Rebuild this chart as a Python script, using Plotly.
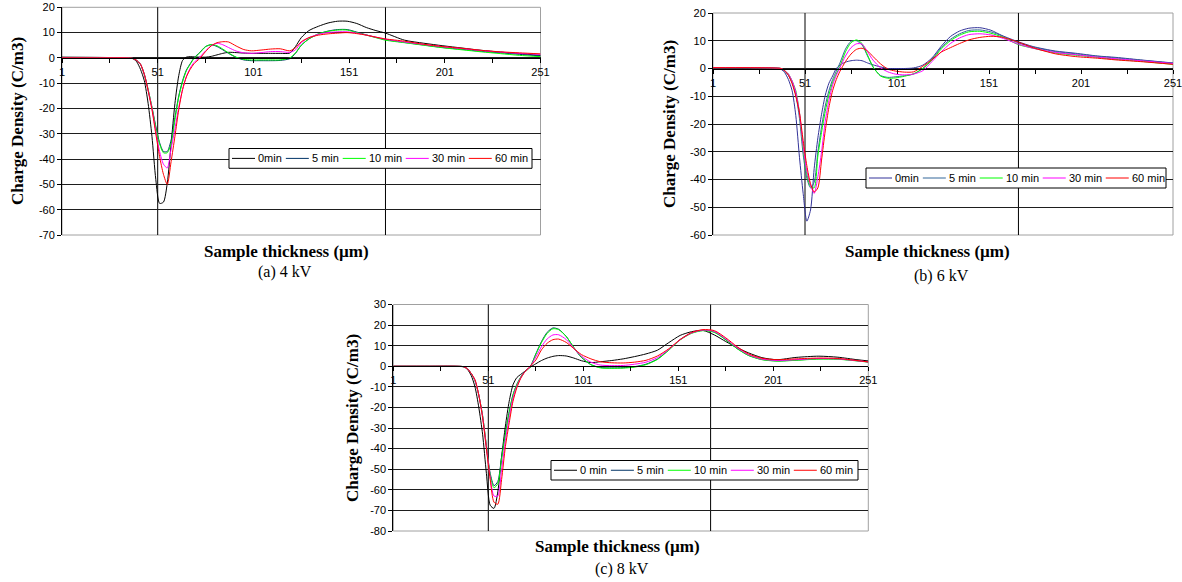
import plotly.graph_objects as go

W, H = 1182, 582

# ---------------- data ----------------
names_a = ["0min", "5 min", "10 min", "30 min", "60 min"]
names_b = ["0min", "5 min", "10 min", "30 min", "60 min"]
names_c = ["0 min", "5 min", "10 min", "30 min", "60 min"]

x_tick_vals = [1, 26, 51, 76, 101, 126, 151, 176, 201, 226, 251]
x_tick_text = ["1", "", "51", "", "101", "", "151", "", "201", "", "251"]

# (a) 4 kV
xa = [1, 20, 34, 38, 40, 42, 44, 46, 48, 50, 52, 54, 56, 58, 60, 62, 64, 66, 68, 70,
      73, 76, 79, 82, 85, 88, 92, 96, 100, 105, 110, 115, 120, 123, 126, 130,
      135, 140, 145, 150, 155, 160, 165, 170, 180, 190, 200, 210, 220, 230, 240, 251]
a_0min = [0.3, 0.2, 0, -0.3, -1.5, -4.5, -9, -18, -31, -48, -57.5, -57, -49.5, -34, -18, -7, -1, 0.3, 0.5, 0.4,
          0.3, 0.3, 0.6, 1.2, 1.8, 2.2, 2.1, 1.9, 1.8, 1.8, 1.8, 1.8, 1.9, 4.5, 8, 10.8,
          12.5, 13.8, 14.5, 14.5, 13.6, 12, 10.8, 9.8, 7, 5.8, 4.8, 3.9, 3, 2.3, 1.7, 1.0]
a_5min = [0, 0, 0, -0.2, -1, -2.5, -6.5, -12.5, -19.5, -27, -33.5, -37, -37, -32.5, -23.5, -15, -9, -4.8, -2.3, 0,
          2.2, 4.5, 5.2, 4.5, 3.2, 1.8, 0.2, -0.8, -1.1, -1.1, -1.1, -1, -0.3, 1.8, 5, 7.5,
          9.5, 10.6, 11.2, 11.2, 10.2, 9.1, 8.1, 7.2, 6.1, 5.1, 4.1, 3.4, 2.6, 2, 1.4, 0.8]
a_10min = [0, 0, 0, -0.2, -1, -2.5, -6.5, -12.5, -19.5, -27.5, -34, -37.5, -37.5, -34, -24.5, -15.5, -9.5, -5, -2.5, -0.2,
           2, 4.4, 5.3, 4.8, 3.5, 2, 0.3, -0.6, -0.8, -0.8, -0.8, -0.8, 0, 2, 5, 7.5,
           9.5, 10.5, 11, 11, 10, 9, 8, 7, 6, 5, 4, 3.2, 2.4, 1.7, 1.0, 0.5]
a_30min = [0, 0, 0, -0.2, -1, -2.5, -6.5, -12.8, -20, -29, -37, -42, -43.5, -36, -28, -19.5, -12.5, -7.3, -4, -1.8,
           0.3, 2.8, 4.8, 5.8, 5.2, 4.1, 2.7, 2, 1.8, 2.1, 2.5, 2.5, 2.2, 3.2, 6, 8,
           9.3, 10, 10.3, 10.3, 9.8, 9, 8.2, 7.4, 6.3, 5.3, 4.4, 3.7, 2.9, 2.3, 1.8, 1.4]
a_60min = [0, 0, 0, -0.2, -1, -2.5, -6.5, -13, -20.5, -30, -39, -46, -50, -41, -31, -20.5, -12.5, -7.5, -4.5, -2.3,
           -0.2, 2.5, 4.8, 6, 6.4, 6.3, 4.7, 3.3, 2.8, 3.1, 3.5, 3.6, 2.8, 4, 6.4, 8,
           9, 9.5, 9.8, 10, 9.6, 9, 8.2, 7.5, 6.6, 5.4, 4.5, 3.8, 3, 2.4, 2, 1.6]

# (b) 6 kV
xb = [1, 20, 34, 38, 40, 42, 44, 46, 48, 50, 52, 54, 56, 58, 60, 62, 64, 66, 68, 70,
      73, 76, 79, 82, 85, 88, 92, 96, 100, 105, 110, 115, 120, 125, 130, 135, 140,
      146, 152, 158, 167, 175, 187, 198, 210, 220, 235, 251]
b_0min = [0.3, 0.3, 0.2, -0.3, -1.5, -4, -8, -17, -32, -45, -55, -51, -36, -25, -16.5, -9.7, -5.3, -2.7, 0, 1.2,
          2.3, 2.8, 3, 2.8, 2, 1.3, 0.6, 0, 0, 0, 0.2, 1.2, 3.8, 8, 11.5, 13.5, 14.5,
          14.7, 13.8, 11.9, 9.6, 7.9, 6.3, 5.5, 4.5, 4, 3, 2]
b_5min = [0.3, 0.3, 0.2, 0, -1, -2.5, -5, -9.5, -18, -31, -39.5, -43, -41, -30, -21, -13.5, -8, -4, -1, 2,
          7, 9.8, 10, 8.5, 4.5, 0.5, -2.5, -3.2, -3.0, -2.6, -2, 0, 3.3, 7.5, 10.5, 12.5, 13.7,
          13.9, 13.2, 11.8, 9.2, 7.7, 6.1, 5.3, 4.4, 3.8, 2.9, 1.9]
b_10min = [0.3, 0.3, 0.2, 0, -0.8, -2, -4.5, -8, -16, -29, -38, -42.5, -43, -31.5, -23, -15.5, -9.5, -5, -2, 0.8,
           6, 9.3, 10.3, 9, 4.8, 0.6, -2.7, -3.5, -3.4, -2.8, -1.9, 0, 3, 7, 10, 12, 13.2,
           13.4, 12.7, 11.4, 8.6, 7.3, 5.6, 4.8, 4, 3.3, 2.5, 1.5]
b_30min = [0.3, 0.3, 0.2, 0, -0.8, -2, -4.5, -8.5, -16, -28, -37, -42, -45, -39, -30, -19, -11.5, -6, -2.5, 0.3,
           4.5, 7.5, 8.9, 8.8, 6, 3, 0.3, -1.2, -2, -2.3, -2, -0.8, 2.5, 6, 9, 11, 12.2,
           12.5, 12.1, 11, 8.8, 7.3, 5.8, 5, 4.1, 3.5, 2.7, 1.8]
b_60min = [0.3, 0.3, 0.2, 0, -0.8, -2.5, -5.5, -10, -16, -26, -35, -41.5, -44.5, -43, -33, -22.5, -14, -8, -4, -1,
           2.5, 5.2, 6.9, 7.3, 6.3, 4.3, 1.7, -0.2, -0.9, -1.3, -1.2, 0.8, 3.2, 5.9, 7.5, 9, 10.3,
           11.2, 11.6, 11.3, 9.5, 7.5, 5.3, 4.3, 3.7, 3.1, 2.4, 1.5]

# (c) 8 kV
xc = [1, 20, 34, 38, 40, 42, 44, 46, 48, 50, 52, 54, 56, 58, 60, 62, 64, 66, 68, 70,
      73, 76, 79, 82, 85, 88, 92, 96, 100, 105, 110, 116, 122, 128, 134, 140, 146, 152,
      158, 164, 170, 176, 182, 188, 195, 203, 213, 225, 235, 245, 251]
c_0min = [0, 0, 0, -0.3, -1.5, -4.5, -10, -20, -33, -52, -67.5, -69, -61, -44, -29, -17, -9, -5.5, -4, -2.6,
          -0.5, 1.2, 2.8, 4, 4.8, 5.2, 5, 4, 2.7, 1.8, 2.2, 2.8, 3.6, 4.7, 6, 7.8, 11.5, 15,
          16.8, 17.4, 15.2, 12, 9, 6.5, 4.2, 3.2, 4.3, 4.9, 4.4, 3.2, 2.6]
c_5min = [0, 0, 0, -0.2, -1.2, -3.5, -7, -14, -24, -38.5, -52, -58, -56, -44, -32.5, -22, -13.8, -8.8, -5.3, -2.8,
          -0.3, 6, 12, 16.5, 18.6, 18, 14.5, 9, 4.3, 0.8, -0.6, -0.8, -0.7, -0.2, 1, 3.5, 8, 13,
          16.2, 17.4, 16.6, 12.9, 8.6, 5.3, 3.3, 2.6, 3, 3.6, 3.5, 2.7, 2.1]
c_10min = [0, 0, 0, -0.2, -1.2, -3.5, -7, -14, -24, -39, -53, -59, -57, -45, -33, -22.5, -14, -9, -5.5, -3,
           -0.5, 5.8, 11.5, 16, 18.2, 17.8, 14.5, 9.2, 4.5, 0.8, -0.8, -1, -0.9, -0.4, 0.8, 3.3, 7.8, 12.8,
           16, 17.3, 16.5, 12.8, 8.5, 5.2, 3.2, 2.5, 2.9, 3.5, 3.4, 2.6, 2.0]
c_30min = [0, 0, 0, -0.2, -1.2, -3.5, -6.8, -14, -24.5, -39.5, -54, -63, -63, -50, -36, -25, -15.5, -9.8, -5.8, -3,
           -0.3, 4.5, 9.5, 13.3, 15.2, 15.3, 13, 8.8, 5, 2, 0.6, 0.3, 0.4, 1, 2, 4.2, 8.2, 12.9,
           16.2, 17.6, 16.9, 13.3, 9, 5.6, 3.5, 2.8, 3.2, 3.8, 3.6, 2.7, 2.1]
c_60min = [0, 0, 0, -0.2, -1.2, -3.5, -6.5, -14, -25, -40, -55, -66, -67, -55, -39, -27.5, -17, -10.5, -6, -3,
           0, 3, 8, 11.2, 12.9, 13.2, 11.6, 8.6, 5.7, 3.6, 2.2, 1.7, 1.6, 2, 2.9, 5, 8.5, 13,
           16.4, 17.8, 17.3, 13.8, 9.5, 6, 3.9, 3.2, 3.6, 4, 3.8, 2.8, 2.1]

marker_lines_a = [51, 170]
marker_lines_b = [51, 167]
marker_lines_c = [51, 168]

# ---------------- styling / layout ----------------
colors_a = ["#000000", "#003366", "#00FF00", "#FF00FF", "#FF0000"]
colors_b = ["#333399", "#336699", "#00FF00", "#FF00FF", "#FF0000"]
colors_c = ["#000000", "#003366", "#00FF00", "#FF00FF", "#FF0000"]

SANS = "Liberation Sans"
SERIF = "Liberation Serif"
LEG_FONT = 11

# Arial-like advance widths (em) used to lay out the legend entries
_CW = {" ": 0.278, "m": 0.833, "i": 0.222, "n": 0.556}


def text_w(s, size):
    return sum(_CW.get(ch, 0.556) for ch in s) * size


panels = [
    dict(key="", x=xa, ys=[a_0min, a_5min, a_10min, a_30min, a_60min], names=names_a,
         colors=colors_a, box=(62, 540.5, 7.3, 235), yr=(-70, 20), lines=marker_lines_a,
         leg=(229, 532, 148.5, 168.3), ytitle=(17, 121), xtitle=(286, 251), cap=(285, 272), caption="(a) 4 kV"),
    dict(key="2", x=xb, ys=[b_0min, b_5min, b_10min, b_30min, b_60min], names=names_b,
         colors=colors_b, box=(713, 1173, 13, 235), yr=(-60, 20), lines=marker_lines_b,
         leg=(866, 1166, 168, 188), ytitle=(669, 124), xtitle=(928, 251), cap=(942, 276), caption="(b) 6 kV"),
    dict(key="3", x=xc, ys=[c_0min, c_5min, c_10min, c_30min, c_60min], names=names_c,
         colors=colors_c, box=(393.3, 868.3, 304.5, 531), yr=(-80, 30), lines=marker_lines_c,
         leg=(551, 858, 460.5, 480), ytitle=(352, 418), xtitle=(617, 546), cap=(622, 569), caption="(c) 8 kV"),
]

fig = go.Figure()
layout = dict(width=W, height=H, margin=dict(l=0, r=0, t=0, b=0, autoexpand=False), autosize=False,
              paper_bgcolor="white", plot_bgcolor="white", showlegend=False)
shapes = []
annotations = []


def px(x):
    return x / W


def py(y):
    return 1 - y / H


for p in panels:
    k = p["key"]
    xname, yname = "x" + k, "y" + k
    for ys, nm, col in zip(p["ys"], p["names"], p["colors"]):
        assert len(ys) == len(p["x"]), (nm, len(ys), len(p["x"]))
        fig.add_trace(go.Scatter(x=p["x"], y=ys, mode="lines", name=nm,
                                 line=dict(color=col, width=1, shape="spline", smoothing=0.7),
                                 xaxis=xname, yaxis=yname, hoverinfo="skip", showlegend=False))
    x0, x1, yt, yb = p["box"]
    dx = [px(x0), px(x1)]
    dy = [py(yb), py(yt)]
    ymin, ymax = p["yr"]
    zero_pos = dy[0] + (0 - ymin) / (ymax - ymin) * (dy[1] - dy[0])
    yticks = list(range(ymin, ymax + 1, 10))
    layout["xaxis" + k] = dict(domain=dx, range=[1, 251], anchor="free", position=zero_pos,
                               tickmode="array", tickvals=x_tick_vals, ticktext=x_tick_text,
                               ticks="outside", ticklen=4, tickcolor="black", tickwidth=1,
                               showline=True, linecolor="black", linewidth=1,
                               showgrid=False, zeroline=False, ticklabeloverflow="allow",
                               tickfont=dict(family=SANS, size=11, color="black"))
    layout["yaxis" + k] = dict(domain=dy, range=[ymin, ymax], anchor=xname,
                               tickmode="array", tickvals=yticks, ticktext=[str(v) for v in yticks],
                               ticks="outside", ticklen=4, tickcolor="black",
                               showline=True, linecolor="black", linewidth=1,
                               showgrid=True, gridcolor="#1e1e1e", gridwidth=1, zeroline=False,
                               tickfont=dict(family=SANS, size=11, color="black"))
    shapes.append(dict(type="rect", xref=xname + " domain", yref=yname + " domain",
                       x0=0, x1=1, y0=0, y1=1, line=dict(color="#a0a0a0", width=1), layer="below"))
    for v in p["lines"]:
        shapes.append(dict(type="line", xref=xname, yref=yname + " domain", x0=v, x1=v, y0=0, y1=1,
                           line=dict(color="black", width=1), layer="below"))

    # legend box (Excel style, one row)
    lx0, lx1, ly0, ly1 = p["leg"]
    shapes.append(dict(type="rect", xref="paper", yref="paper", x0=px(lx0), x1=px(lx1),
                       y0=py(ly1), y1=py(ly0), fillcolor="white", line=dict(color="black", width=1)))
    cy = (ly0 + ly1) / 2
    cx = lx0 + 3
    for nm, col in zip(p["names"], p["colors"]):
        shapes.append(dict(type="line", xref="paper", yref="paper", x0=px(cx), x1=px(cx + 23),
                           y0=py(cy), y1=py(cy), line=dict(color=col, width=1)))
        annotations.append(dict(text=nm, x=px(cx + 25), y=py(cy), xref="paper", yref="paper",
                                showarrow=False, xanchor="left", yanchor="middle", borderpad=0,
                                font=dict(family=SANS, size=LEG_FONT, color="black")))
        cx += 26 + text_w(nm, LEG_FONT) + 4

    tx, ty = p["ytitle"]
    annotations.append(dict(text="Charge Density (C/m3)", x=px(tx), y=py(ty), xref="paper",
                            yref="paper", showarrow=False, textangle=-90,
                            xanchor="center", yanchor="middle",
                            font=dict(family=SERIF, size=17, color="black", weight="bold")))
    tx, ty = p["xtitle"]
    annotations.append(dict(text="Sample thickness (µm)", x=px(tx), y=py(ty), xref="paper",
                            yref="paper", showarrow=False, xanchor="center", yanchor="middle",
                            font=dict(family=SERIF, size=17, color="black", weight="bold")))
    tx, ty = p["cap"]
    annotations.append(dict(text=p["caption"], x=px(tx), y=py(ty), xref="paper",
                            yref="paper", showarrow=False, xanchor="center", yanchor="middle",
                            font=dict(family=SERIF, size=16, color="black")))

layout["shapes"] = shapes
layout["annotations"] = annotations
fig.update_layout(**layout)
fig.write_html("out.html", config={"displayModeBar": False},
               post_script="document.body.style.margin='0';document.body.style.overflow='hidden';")
